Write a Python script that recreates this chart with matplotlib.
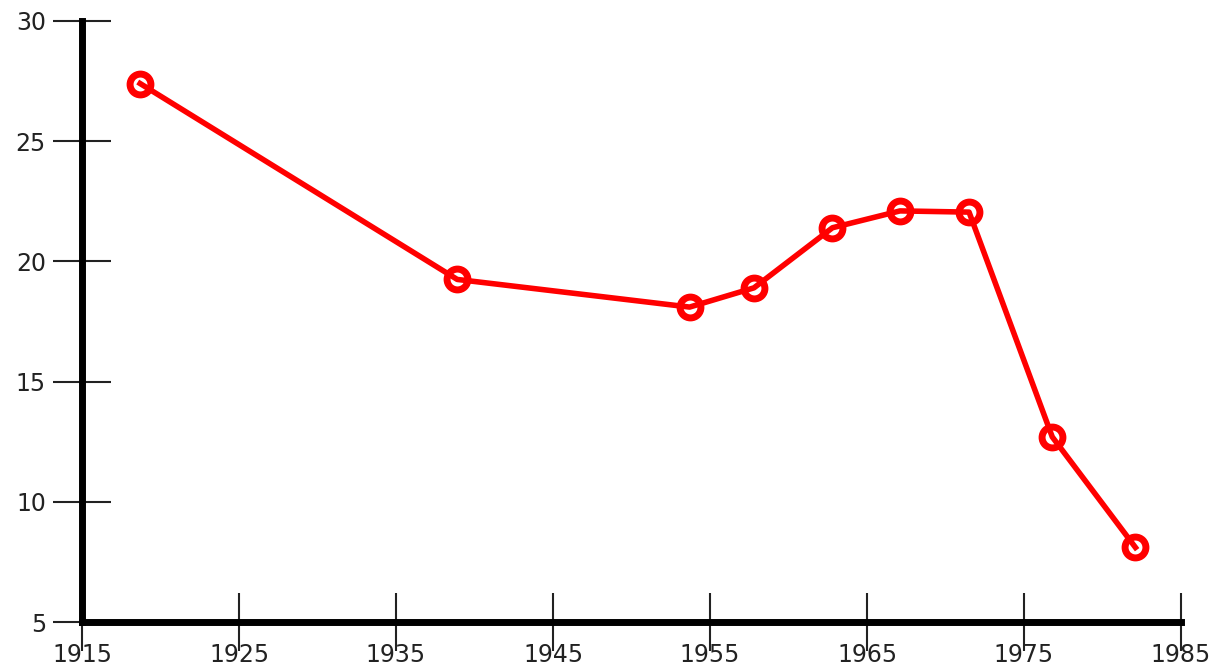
import matplotlib
matplotlib.use("Agg")
import matplotlib.pyplot as plt

years = [1918.7, 1938.9, 1953.7, 1957.8, 1962.8, 1967.1, 1971.5, 1976.8, 1982.1]
values = [27.4, 19.25, 18.1, 18.9, 21.4, 22.1, 22.05, 12.7, 8.1]
x_ticks = [1915, 1925, 1935, 1945, 1955, 1965, 1975, 1985]
y_ticks = [5, 10, 15, 20, 25, 30]

fig = plt.figure(figsize=(12.2, 6.68), dpi=100)
ax = fig.add_axes([82 / 1220, 1 - 622 / 668, (1181 - 82) / 1220, (622 - 21) / 668])

ax.plot(years, values, color="#ff0000", linewidth=4, marker="o",
        markersize=15, markerfacecolor="none", markeredgecolor="#ff0000",
        markeredgewidth=5, clip_on=False)

ax.set_xlim(1915, 1985)
ax.set_ylim(5, 30)
ax.set_xticks(x_ticks)
ax.set_yticks(y_ticks)

for s in ["top", "right"]:
    ax.spines[s].set_visible(False)
for s in ["left", "bottom"]:
    ax.spines[s].set_linewidth(5)
    ax.spines[s].set_color("black")
    ax.spines[s].set_capstyle("projecting")

ax.tick_params(axis="both", direction="inout", length=42, width=1.5,
               color="#222222", labelsize=17, labelcolor="#222222")
ax.tick_params(axis="y", pad=5)
ax.tick_params(axis="x", pad=-6)

plt.savefig("out.png", dpi=100)
